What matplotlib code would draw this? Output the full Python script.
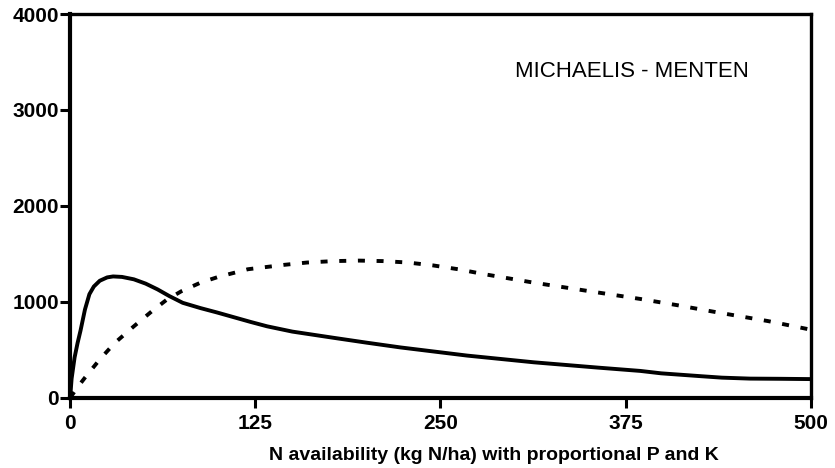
import matplotlib.pyplot as plt

plt.rcParams['font.family'] = ['Liberation Sans', 'DejaVu Sans']

# 数据
solid_x = [0, 1, 3, 5, 7, 10, 13, 16, 20, 25, 29, 35, 43, 51, 59, 67, 76, 88, 99,
           122, 133, 150, 178, 200, 223, 268, 313, 356, 385, 399, 426, 440, 459, 480, 500]
solid_y = [0, 200, 420, 570, 700, 920, 1080, 1160, 1220, 1255, 1265, 1260, 1235, 1190,
           1130, 1060, 990, 935, 890, 790, 745, 690, 625, 575, 525, 440, 370, 315,
           280, 255, 225, 210, 200, 198, 195]

dash_x = [0, 5, 10, 20, 30, 43, 55, 65, 75, 88, 100, 110, 120, 144, 160, 178, 195,
          211, 228, 245, 262, 279, 296, 313, 330, 351, 385, 410, 437, 471, 500]
dash_y = [0, 110, 210, 400, 570, 745, 900, 1020, 1110, 1200, 1260, 1300, 1340, 1385,
          1410, 1425, 1430, 1425, 1410, 1380, 1340, 1290, 1245, 1200, 1160, 1110,
          1030, 965, 890, 800, 710]

x_ticks = [0, 125, 250, 375, 500]
y_ticks = [0, 1000, 2000, 3000, 4000]

fig = plt.figure(figsize=(8.35, 4.68), dpi=100)
ax = fig.add_axes([0.084, 0.150, 0.887, 0.820])

ax.plot(solid_x, solid_y, color='black', linewidth=2.8, solid_capstyle='butt')
ax.plot(dash_x, dash_y, color='black', linewidth=2.8, linestyle=(0, (1.8, 3.0)))

ax.set_xlim(0, 500)
ax.set_ylim(0, 4000)
ax.set_xticks(x_ticks)
ax.set_yticks(y_ticks)
ax.tick_params(direction='out', length=7, width=2.2, labelsize=15)
ax.tick_params(axis='x', pad=5)
ax.tick_params(axis='y', pad=1)
for lab in ax.get_xticklabels() + ax.get_yticklabels():
    lab.set_fontweight('bold')

for side in ['left', 'bottom']:
    ax.spines[side].set_linewidth(3.0)
for side in ['top', 'right']:
    ax.spines[side].set_linewidth(2.4)

ax.set_xlabel('N availability (kg N/ha) with proportional P and K',
              fontsize=14, fontweight='bold', labelpad=10)
ax.xaxis.label.set_x(0.572)
ax.text(300, 3400, 'MICHAELIS - MENTEN', fontsize=16, va='center', ha='left')

plt.savefig('out.png', dpi=100)
